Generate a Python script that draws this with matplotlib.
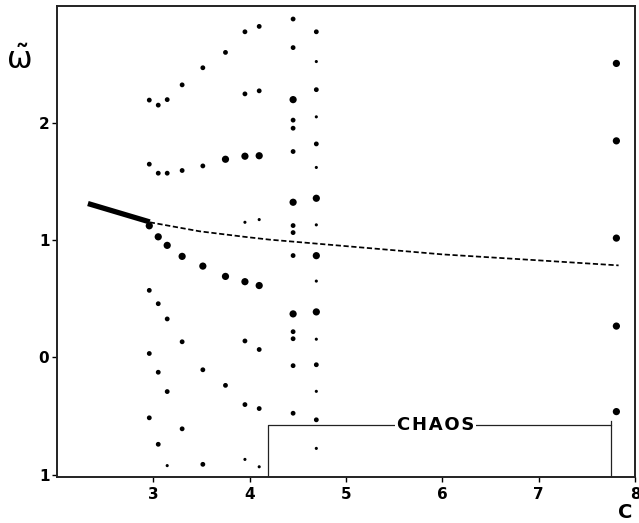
import matplotlib
matplotlib.use("Agg")
import matplotlib.pyplot as plt
import numpy as np

# Frequency spectra (omega-tilde) versus control parameter C.
# Each column: C value, list of omega values and marker classes; s=small, m=medium, l=large.
col_c = [2.958, 3.051, 3.144, 3.299, 3.514, 3.749, 3.951, 4.099, 4.451, 4.692, 7.807]

col_omega = [
    [2.197, 1.650, 1.124, 0.573, 0.034, -0.515],
    [2.154, 1.573, 1.030, 0.459, -0.126, -0.741],
    [2.201, 1.573, 0.957, 0.329, -0.291, -0.923],
    [2.327, 1.596, 0.863, 0.134, -0.609],
    [2.473, 1.635, 0.780, -0.105, -0.912],
    [2.604, 1.692, 0.692, -0.238],
    [2.780, 2.250, 1.718, 1.154, 0.647, 0.141, -0.402, -0.870],
    [2.826, 2.276, 1.722, 1.177, 0.614, 0.068, -0.436, -0.933],
    [2.889, 2.645, 2.201, 2.026, 1.957, 1.758, 1.325, 1.126, 1.066, 0.870,
     0.372, 0.220, 0.160, -0.070, -0.476],
    [2.780, 2.526, 2.286, 2.054, 1.823, 1.622, 1.359, 1.132, 0.869, 0.652,
     0.389, 0.156, -0.062, -0.289, -0.532, -0.776],
    [2.510, 1.849, 1.019, 0.268, -0.462],
]

col_size = [
    "mmlmmm",
    "mmlmmm",
    "mmlmms",
    "mmlmm",
    "mmlmm",
    "mllm",
    "mmlslmms",
    "mmlslmms",
    "mmlmmmlmmmlmmmm",
    "msmsmslslslsmsms",
    "lllll",
]

# Stable branch (solid) and its continuation (dashed)
solid_c = [2.321, 2.963]
solid_w = [1.314, 1.157]
dash_c = [2.963, 3.48, 3.946, 4.205, 4.72, 6.0, 7.0, 7.83]
dash_w = [1.154, 1.077, 1.030, 1.006, 0.970, 0.880, 0.829, 0.786]

# Chaotic interval
chaos_lo, chaos_hi, chaos_level = 4.187, 7.753, -0.575

xticks = [3, 4, 5, 6, 7, 8]
xtick_labels = ["3", "4", "5", "6", "7", "8"]
yticks = [-1, 0, 1, 2]
ytick_labels = ["1", "0", "1", "2"]

size_map = {"s": 5, "m": 12, "l": 27}

fig = plt.figure(figsize=(6.39, 5.23), dpi=100)
ax = fig.add_axes([0.0892, 0.088, 0.9045, 0.9005])

for c, ws, sz in zip(col_c, col_omega, col_size):
    ax.scatter([c] * len(ws), ws, s=[size_map[k] for k in sz],
               color="black", linewidths=0, zorder=3)

ax.plot(solid_c, solid_w, color="black", lw=3.8, solid_capstyle="butt", zorder=2)
ax.plot(dash_c, dash_w, color="black", lw=1.25, dashes=(3.0, 1.5), zorder=2)

# Bracket marking the chaotic range
ax.plot([chaos_lo, chaos_lo, chaos_hi, chaos_hi],
        [-1.02, chaos_level, chaos_level, -1.02],
        color="#222222", lw=0.9, zorder=2)
ax.plot([chaos_hi, chaos_hi], [chaos_level, chaos_level + 0.035],
        color="#222222", lw=0.9, zorder=2)
ax.text(5.93, chaos_level, "\u200a".join("CHAOS"), ha="center", va="center",
        fontsize=13, fontweight="bold", color="black",
        bbox=dict(facecolor="white", edgecolor="none", pad=1.5), zorder=4)

ax.set_xlim(2, 8)
ax.set_ylim(-1.02, 3.0)
ax.set_xticks(xticks)
ax.set_xticklabels(xtick_labels)
ax.set_yticks(yticks)
ax.set_yticklabels(ytick_labels)
ax.tick_params(direction="out", length=3.5, width=1.0, labelsize=11, pad=4)
for lab in ax.get_xticklabels() + ax.get_yticklabels():
    lab.set_fontweight("bold")
ax.tick_params(axis="y", pad=2)

for sp in ax.spines.values():
    sp.set_linewidth(1.4)
    sp.set_color("#222222")

fig.text(19 / 639, 1 - 60 / 523, r"$\tilde{\mathrm{\omega}}$", fontsize=22,
         ha="center", va="center")
fig.text(625 / 639, 1 - 512 / 523, "C", fontsize=14, fontweight="bold",
         ha="center", va="center")

fig.savefig("out.png", dpi=100)
